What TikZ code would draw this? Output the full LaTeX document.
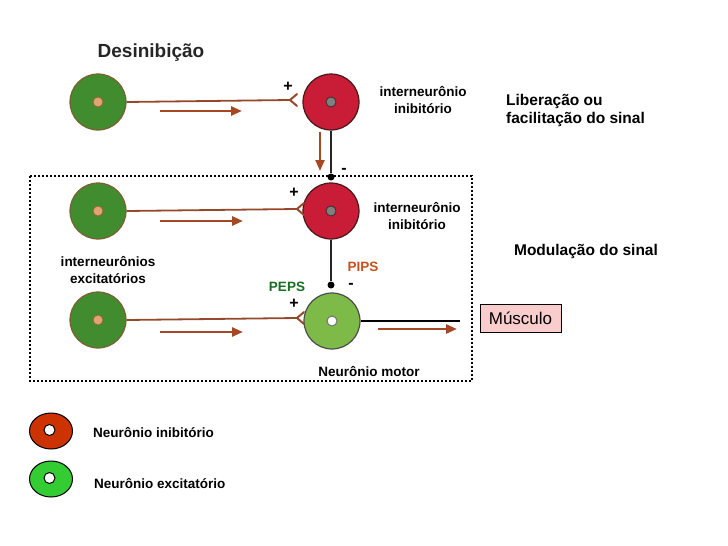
\documentclass[tikz,border=0pt]{standalone}
\usepackage{fontspec}
\setmainfont{Liberation Sans}
\usetikzlibrary{arrows.meta,shapes.geometric}
\definecolor{exgreen}{RGB}{64,140,46}
\definecolor{exborder}{RGB}{125,95,50}
\definecolor{peach}{RGB}{225,165,115}
\definecolor{peachb}{RGB}{150,100,60}
\definecolor{inred}{RGB}{200,28,55}
\definecolor{inborder}{RGB}{70,25,25}
\definecolor{motgreen}{RGB}{126,186,72}
\definecolor{axbrown}{RGB}{150,72,42}
\definecolor{arbrown}{RGB}{165,72,35}
\definecolor{legred}{RGB}{204,51,0}
\definecolor{leggreen}{RGB}{51,204,51}
\definecolor{pipscol}{RGB}{200,80,30}
\definecolor{pepscol}{RGB}{25,110,35}
\definecolor{muscpink}{RGB}{250,205,205}
\tikzset{
  excell/.style={circle,draw=exborder,line width=1.2pt,fill=exgreen,minimum size=56pt,inner sep=0pt},
  excdot/.style={circle,draw=peachb,line width=0.8pt,fill=peach,minimum size=10pt,inner sep=0pt},
  incell/.style={circle,draw=inborder,line width=1.2pt,fill=inred,minimum size=56pt,inner sep=0pt},
  indot/.style={circle,draw=black!80,line width=0.8pt,fill=black!50,minimum size=10pt,inner sep=0pt},
  motcell/.style={circle,draw=black!70,line width=1.2pt,fill=motgreen,minimum size=56pt,inner sep=0pt},
  motdot/.style={circle,draw=black!55,line width=1pt,fill=white,minimum size=10pt,inner sep=0pt},
  axon/.style={draw=axbrown,line width=1.8pt},
  fork/.style={draw=axbrown,line width=2pt,line cap=round},
  flow/.style={draw=arbrown,line width=2.8pt,-{Triangle[length=11pt,width=9pt]}},
  blackline/.style={draw=black!85,line width=1.6pt},
  endknob/.style={circle,fill=black,minimum size=7pt,inner sep=0pt},
  lab/.style={font=\fontsize{13.5}{17}\selectfont\bfseries,align=center,inner sep=0pt},
  biglab/.style={font=\fontsize{15.5}{18}\selectfont\bfseries,align=left,inner sep=0pt},
  sign/.style={font=\fontsize{16}{16}\selectfont\bfseries,inner sep=0pt},
  minus/.style={sign,text height=2pt,text depth=0pt,yshift=-4pt},
  legell/.style={ellipse,draw=black,line width=1pt,minimum width=43pt,minimum height=36pt,inner sep=0pt},
  legdot/.style={circle,draw=black,line width=1pt,fill=white,minimum size=11pt,inner sep=0pt}
}
\begin{document}
\begin{tikzpicture}[x=1pt,y=-1pt]
\useasboundingbox (0,0) rectangle (728,546);
% title
\node[font=\fontsize{19}{19}\selectfont\bfseries,text=black!85,inner sep=0pt] (title) at (151,53) {Desinibição};
% dotted box
\draw[line width=2pt,dash pattern=on 2pt off 2pt] (30,176) rectangle (472,381);
% ---- row 1
\node[excell] (e1) at (98,102) {};
\node[excdot] (e1d) at (98,102) {};
\node[incell] (r1) at (331,102) {};
\node[indot] (r1d) at (331,102) {};
\coordinate (s1) at (290,100);
\draw[axon] (e1.east) -- (s1);
\draw[fork] (297,94) -- (s1) -- (297,106);
\node[sign] (p1) at (288,87) {+};
\coordinate (a1s) at (160,111); \coordinate (a1e) at (242,111);
\draw[flow] (a1s) -- (a1e);
\node[lab] (l1) at (423,100) {interneurônio\\inibitório};
\node[biglab,anchor=west] (lib) at (506,110) {Liberação ou\\facilitação do sinal};
% vertical from r1
\node[endknob] (k1) at (331,177) {};
\draw[blackline] (r1.south) -- (k1);
\coordinate (dv1) at (320,132); \coordinate (dv2) at (320,171);
\draw[flow,line width=2.2pt] (dv1) -- (dv2);
\node[minus] (m1) at (344,168) {-};
% ---- row 2
\node[excell] (e2) at (98,211) {};
\node[excdot] (e2d) at (98,211) {};
\node[incell] (r2) at (331,211) {};
\node[indot] (r2d) at (331,211) {};
\coordinate (s2) at (297,209);
\draw[axon] (e2.east) -- (s2);
\draw[fork] (304,203) -- (s2) -- (304,215);
\node[sign] (p2) at (294,193) {+};
\coordinate (a2s) at (160,221); \coordinate (a2e) at (243,221);
\draw[flow] (a2s) -- (a2e);
\node[lab] (l2) at (417,216) {interneurônio\\inibitório};
\node[biglab,anchor=center] (mod) at (586,251) {Modulação do sinal};
\node[lab] (exlab) at (108,270) {interneurônios\\excitatórios};
% vertical from r2
\node[endknob] (k2) at (331,285) {};
\draw[blackline] (r2.south) -- (k2);
\node[minus] (m2) at (351,283) {-};
\node[lab,text=pipscol] (pips) at (363,267) {PIPS};
\node[lab,text=pepscol] (peps) at (287,287) {PEPS};
% ---- row 3
\node[excell] (e3) at (98,320) {};
\node[excdot] (e3d) at (98,320) {};
\node[motcell] (mot) at (332,321) {};
\node[motdot] (motd) at (332,321) {};
\coordinate (s3) at (297,318);
\draw[axon] (e3.east) -- (s3);
\draw[fork] (304,312) -- (s3) -- (304,324);
\node[sign] (p3) at (294,304) {+};
\coordinate (a3s) at (160,332); \coordinate (a3e) at (243,332);
\draw[flow] (a3s) -- (a3e);
\coordinate (motend) at (460,321);
\draw[line width=2pt,black] (mot.east) -- (motend);
\coordinate (a4s) at (378,329); \coordinate (a4e) at (457,329);
\draw[flow] (a4s) -- (a4e);
\node[lab] (motlab) at (369,372) {Neurônio motor};
\node[draw=black,line width=0.8pt,fill=muscpink,minimum width=81pt,minimum height=28pt,inner sep=0pt,font=\fontsize{17}{17}\selectfont] (musc) at (520.5,318) {Músculo};
% ---- legend
\node[legell,fill=legred] (lr) at (51,431) {};
\node[legdot] (lrd) at (49.5,430) {};
\node[lab,anchor=west] (lrt) at (93,433) {Neurônio inibitório};
\node[legell,fill=leggreen] (lg) at (51,479) {};
\node[legdot] (lgd) at (49.5,478) {};
\node[lab,anchor=west] (lgt) at (94,484) {Neurônio excitatório};
\end{tikzpicture}
\end{document}
